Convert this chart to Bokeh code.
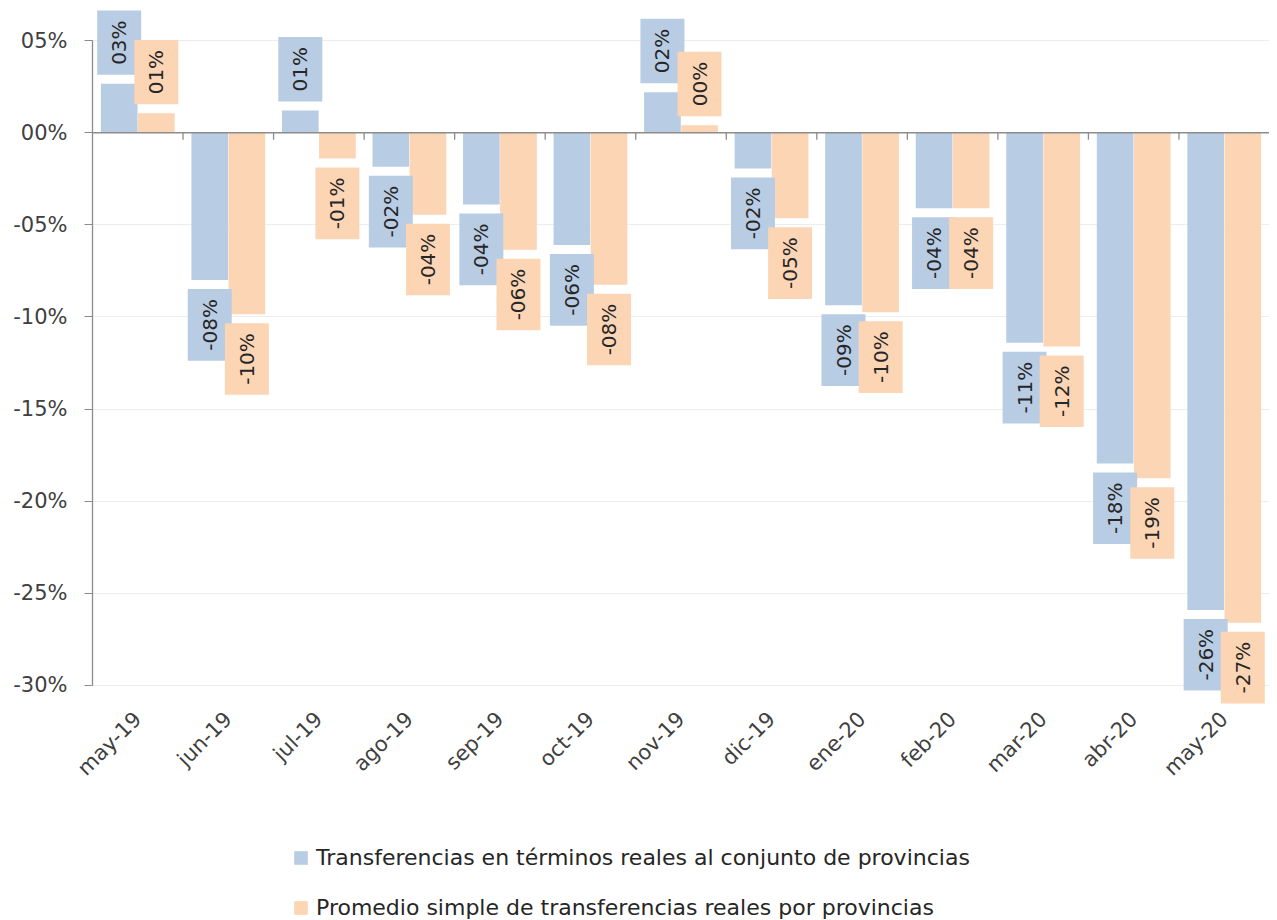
import math
from bokeh.plotting import figure
from bokeh.layouts import column
from bokeh.models import (ColumnDataSource, FixedTicker, Legend, LegendItem, Span)
from bokeh.core.properties import value
from bokeh.embed import file_html
from bokeh.resources import INLINE

# ---- data ----
categories = ["may-19", "jun-19", "jul-19", "ago-19", "sep-19", "oct-19", "nov-19",
              "dic-19", "ene-20", "feb-20", "mar-20", "abr-20", "may-20"]
transferencias_conjunto = [2.65, -8.0, 1.2, -1.85, -3.9, -6.1, 2.2, -1.95, -9.37, -4.1,
                           -11.4, -17.95, -25.9]
promedio_provincias = [1.05, -9.85, -1.4, -4.45, -6.35, -8.25, 0.4, -4.65, -9.75, -4.1,
                       -11.6, -18.75, -26.6]
series_names = ["Transferencias en términos reales al conjunto de provincias",
                "Promedio simple de transferencias reales por provincias"]
y_ticks = [5, 0, -5, -10, -15, -20, -25, -30]
y_tick_labels = ["05%", "00%", "-05%", "-10%", "-15%", "-20%", "-25%", "-30%"]

BLUE = "#B8CCE4"
ORANGE = "#FCD5B5"
FONT = "DejaVu Sans"

def fmt(v):
    r = int(round(v))
    return ("-" if r < 0 else "") + "%02d%%" % abs(r)

n = len(categories)
centers = [i + 0.5 for i in range(n)]
bar_w = 0.405
off = 0.205

p = figure(frame_width=1177, frame_height=697, x_range=(0, n), y_range=(-31.09, 6.74),
           output_backend="svg", toolbar_location=None,
           min_border_left=92, min_border_right=0, min_border_top=8,
           min_border_bottom=100)
p.outline_line_color = None
p.background_fill_color = "white"
p.border_fill_color = "white"

# grid
p.xgrid.grid_line_color = None
p.ygrid.grid_line_color = "#EDEDED"
p.ygrid.grid_line_width = 1
p.ygrid.ticker = FixedTicker(ticks=y_ticks)

# y axis
p.yaxis.ticker = FixedTicker(ticks=y_ticks)
p.yaxis.major_label_overrides = {t: l for t, l in zip(y_ticks, y_tick_labels)}
p.yaxis.bounds = (-30, 5)
p.yaxis.axis_line_color = "#8C8C8C"
p.yaxis.axis_line_width = 1.3
p.yaxis.major_tick_line_color = "#8C8C8C"
p.yaxis.major_tick_out = 8
p.yaxis.major_tick_in = 0
p.yaxis.minor_tick_line_color = None
p.yaxis.major_label_text_font = FONT
p.yaxis.major_label_text_font_size = "21px"
p.yaxis.major_label_text_color = "#404040"
p.yaxis.major_label_standoff = 17

# x axis (labels only)
p.xaxis.ticker = FixedTicker(ticks=centers)
p.xaxis.major_label_overrides = {c: lab for c, lab in zip(centers, categories)}
p.xaxis.major_label_orientation = math.pi / 4
p.xaxis.axis_line_color = None
p.xaxis.major_tick_line_color = None
p.xaxis.minor_tick_line_color = None
p.xaxis.major_label_text_font = FONT
p.xaxis.major_label_text_font_size = "21px"
p.xaxis.major_label_text_color = "#404040"
p.xaxis.major_label_standoff = 4

# bars
src_b = ColumnDataSource(dict(x=[c - off for c in centers], top=transferencias_conjunto))
src_o = ColumnDataSource(dict(x=[c + off for c in centers], top=promedio_provincias))
p.vbar(x="x", top="top", bottom=0, width=bar_w, source=src_b,
       fill_color=BLUE, line_color=None)
p.vbar(x="x", top="top", bottom=0, width=bar_w, source=src_o,
       fill_color=ORANGE, line_color=None)

# zero axis line with category boundary ticks
p.add_layout(Span(location=0, dimension="width", line_color="#8C8C8C", line_width=1.5))
p.segment(x0=list(range(1, n)), y0=0, x1=list(range(1, n)), y1=-0.38,
          line_color="#8C8C8C", line_width=1.3)

# data labels
for xs, vals, col in ((src_b.data["x"], transferencias_conjunto, BLUE),
                      (src_o.data["x"], promedio_provincias, ORANGE)):
    pos = [(x, v, fmt(v)) for x, v in zip(xs, vals) if v >= 0]
    neg = [(x, v, fmt(v)) for x, v in zip(xs, vals) if v < 0]
    if pos:
        p.text(x=[a[0] for a in pos], y=[a[1] for a in pos], text=[a[2] for a in pos],
               angle=math.pi / 2, text_align="left", text_baseline="middle",
               y_offset=-9, text_font=value(FONT), text_font_size="20px",
               text_color="#262626", background_fill_color=col, padding=10)
    if neg:
        p.text(x=[a[0] for a in neg], y=[a[1] for a in neg], text=[a[2] for a in neg],
               angle=math.pi / 2, text_align="right", text_baseline="middle",
               y_offset=9, text_font=value(FONT), text_font_size="20px",
               text_color="#262626", background_fill_color=col, padding=10)

# ---- legend strip below the chart ----
pl = figure(width=1269, height=115, x_range=(0, 1), y_range=(0, 1),
            output_backend="svg", toolbar_location=None,
            x_axis_location=None, y_axis_location=None, min_border=0)
pl.outline_line_color = None
pl.grid.grid_line_color = None
# legend swatch renderers (kept outside the visible range)
lb = pl.vbar(x=[-5], top=[-5], bottom=-6, width=0.1, fill_color=BLUE, line_color=None)
lo = pl.vbar(x=[-5], top=[-5], bottom=-6, width=0.1, fill_color=ORANGE, line_color=None)

legend = Legend(items=[LegendItem(label=series_names[0], renderers=[lb]),
                       LegendItem(label=series_names[1], renderers=[lo])],
                orientation="vertical", location=(200, 0))
legend.label_text_font = FONT
legend.label_text_font_size = "22px"
legend.label_text_color = "#262626"
legend.glyph_width = 17
legend.glyph_height = 17
legend.label_height = 26
legend.spacing = 24
legend.padding = 0
legend.margin = 0
legend.border_line_color = None
legend.background_fill_alpha = 0
legend.label_standoff = 7
pl.add_layout(legend, "center")

layout = column(p, pl, spacing=0)
open("out.html", "w").write(file_html(layout, INLINE))
